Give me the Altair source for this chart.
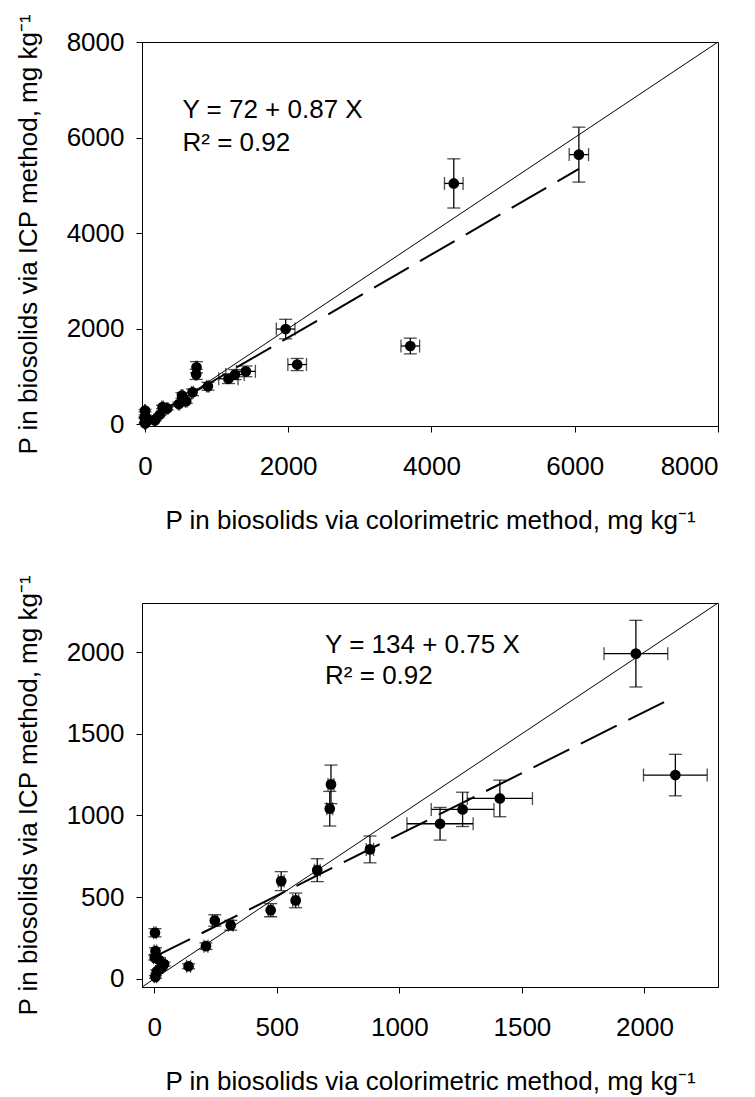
import altair as alt
import pandas as pd

# ---- data ----
col_x = [3, 5, 2, 20, 40, 30, 10, 5, 140, 211, 247, 312, 475, 577, 518, 665, 880, 716, 721,
         1166, 1258, 1410, 1965, 2126, 3705, 4312, 6058]
icp_y = [282, 170, 130, 115, 90, 70, 45, 12, 77, 200, 357, 328, 420, 480, 598, 665, 792, 1041, 1190,
         949, 1037, 1104, 1990, 1247, 1635, 5039, 5642]
x_err = [5, 5, 5, 5, 5, 5, 5, 5, 8, 8, 10, 10, 10, 12, 12, 12, 15, 12, 12,
         135, 128, 133, 130, 130, 130, 130, 135]
y_err = [25, 20, 15, 15, 12, 10, 10, 8, 15, 20, 35, 30, 40, 45, 58, 70, 82, 106, 118,
         100, 105, 112, 204, 127, 165, 515, 575]

top_ticks = [0, 2000, 4000, 6000, 8000]
bot_ticks = [0, 500, 1000, 1500, 2000]
top_domain = [-40, 8000]
bot_domain = [-50, 2300]

top_eq = ["Y = 72 + 0.87 X", "R\u00b2 = 0.92"]
bot_eq = ["Y = 134 + 0.75 X", "R\u00b2 = 0.92"]
top_fit = [72, 0.87]
bot_fit = [134, 0.75]
top_eq_pos = [[525, 6413], [525, 5727]]
bot_eq_pos = [[697, 1996], [697, 1802]]

x_title = "P in biosolids via colorimetric method, mg kg\u207b\u00b9"
y_title = "P in biosolids via ICP method, mg kg\u207b\u00b9"

FONT = "Liberation Sans"

df = pd.DataFrame({"x": col_x, "y": icp_y, "xe": x_err, "ye": y_err})
df["xlo"] = df["x"] - df["xe"]
df["xhi"] = df["x"] + df["xe"]
df["ylo"] = df["y"] - df["ye"]
df["yhi"] = df["y"] + df["ye"]


def panel(data, domain, ticks, fit, eq, eq_pos):
    sc = alt.Scale(domain=domain, nice=False, zero=False)

    def X(f):
        return alt.X(f"{f}:Q", scale=sc,
                     axis=alt.Axis(values=ticks, format="d", title=x_title))

    def Y(f):
        return alt.Y(f"{f}:Q", scale=sc,
                     axis=alt.Axis(values=ticks, format="d", title=y_title))

    ident = pd.DataFrame({"x": domain, "y": domain})
    xmax = float(data["x"].max())
    reg = pd.DataFrame({"x": [0.0, xmax], "y": [fit[0], fit[0] + fit[1] * xmax]})
    txt = pd.DataFrame({"x": [p[0] for p in eq_pos], "y": [p[1] for p in eq_pos], "t": eq})

    base = alt.Chart(data)
    layers = [
        alt.Chart(ident).mark_line(color="black", strokeWidth=1).encode(x=X("x"), y=Y("y")),
        alt.Chart(reg).mark_line(color="black", strokeWidth=2, strokeDash=[40, 13]).encode(x=X("x"), y=Y("y")),
        base.mark_rule(color="black", strokeWidth=1.3).encode(x=X("x"), y=Y("ylo"), y2="yhi"),
        base.mark_rule(color="black", strokeWidth=1.3).encode(x=X("xlo"), x2="xhi", y=Y("y")),
        base.mark_tick(color="black", orient="horizontal", size=13, thickness=1.3).encode(x=X("x"), y=Y("ylo")),
        base.mark_tick(color="black", orient="horizontal", size=13, thickness=1.3).encode(x=X("x"), y=Y("yhi")),
        base.mark_tick(color="black", orient="vertical", size=13, thickness=1.3).encode(x=X("xlo"), y=Y("y")),
        base.mark_tick(color="black", orient="vertical", size=13, thickness=1.3).encode(x=X("xhi"), y=Y("y")),
        base.mark_point(filled=True, size=115, color="black", opacity=1).encode(x=X("x"), y=Y("y")),
        alt.Chart(txt).mark_text(align="left", baseline="alphabetic", fontSize=26, font=FONT,
                                 color="black").encode(x=X("x"), y=Y("y"), text="t:N"),
    ]
    return alt.layer(*layers).properties(width=576, height=384)


top = panel(df, top_domain, top_ticks, top_fit, top_eq, top_eq_pos)
bottom = panel(df[df["x"] <= bot_domain[1]].reset_index(drop=True), bot_domain, bot_ticks,
               bot_fit, bot_eq, bot_eq_pos)

chart = (
    alt.vconcat(top, bottom, spacing=177, bounds="flush")
    .properties(padding={"left": 14, "top": 12, "right": 5, "bottom": 0})
    .configure_axis(labelFont=FONT, titleFont=FONT, labelFontSize=26, titleFontSize=26,
                    labelColor="black", titleColor="black", domainColor="black",
                    tickColor="black", tickSize=6, grid=False,
                    titleFontWeight="normal", domainWidth=1, tickWidth=1)
    .configure_axisX(labelPadding=21, titlePadding=28)
    .configure_axisY(labelPadding=12, titlePadding=25)
    .configure_view(stroke="black", strokeWidth=1)
)

chart.save("out.html", embed_options={"renderer": "svg", "actions": False})
